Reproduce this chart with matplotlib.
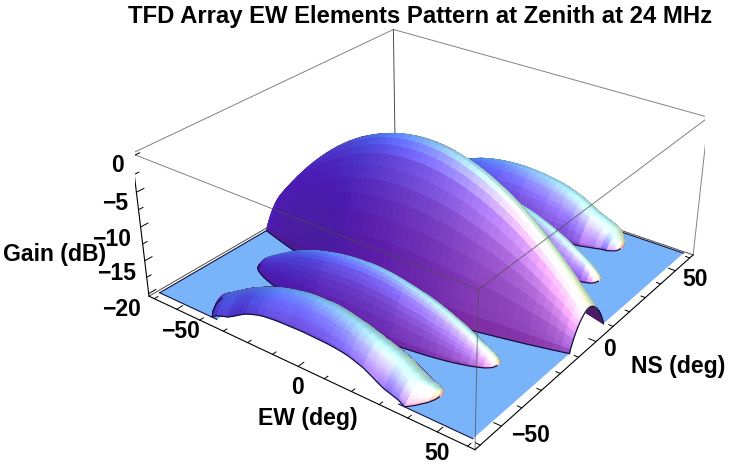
import numpy as np
import matplotlib
matplotlib.use("Agg")
import matplotlib.pyplot as plt
from mpl_toolkits.mplot3d.art3d import Poly3DCollection

# ---- values ----
title = "TFD Array EW Elements Pattern at Zenith at 24 MHz"
floor_db = -20.0
domain = 60.0

# main lobe along EW, given for EW >= 0, the other half is the same
main_ew = [0,2.5,5,7.5,10,12.5,15,17.5,20,22.5,25,27.5,30,32.5,35,37.5,40,42.5,45,47.5,50,52.5,55,57.5,60]
main_ridge = [0,-0.03,-0.11,-0.24,-0.43,-0.67,-0.97,-1.32,-1.72,-2.18,-2.69,-3.25,-3.87,-4.54,-5.27,-6.05,-6.88,-7.77,-8.71,-9.7,-10.75,-11.85,-13.01,-14.22,-15.48]
main_center = [-1.5]*25
main_width = [20,19.97,19.9,19.8,19.68,19.52,19.32,19.08,18.8,18.45,18.05,17.6,17.1,16.55,16,15.45,14.88,14.3,13.7,13.1,12.45,11.8,11.12,10.43,9.72]

# middle lobe, NS < 0 (the NS > 0 one is its mirror)
mid_ew = [0,2.5,5,7.5,10,12.5,15,17.5,20,22.5,25,27.5,30,32.5,35,37.5,40,42,44,45,46,46.5]
mid_ridge = [-12.5,-12.52,-12.58,-12.68,-12.82,-13,-13.22,-13.48,-13.78,-14.12,-14.5,-14.92,-15.38,-15.88,-16.42,-17,-17.62,-18.1,-18.7,-19.1,-19.6,-20]
mid_center = [-30,-30,-30,-30,-30,-30,-30,-29.9,-29.8,-29.7,-29.6,-29.5,-29.4,-29.3,-29.2,-29.1,-29,-28.8,-28.6,-28.5,-28.5,-28.5]
mid_width = [9,9,8.95,8.9,8.8,8.7,8.55,8.4,8.2,7.95,7.7,7.4,7.05,6.6,6.1,5.5,4.8,4.2,3.4,2.8,1.8,0.3]

# outer lobe, cut by the edge of the domain
out_ew = [0,2.5,5,7.5,10,12.5,15,17.5,20,22.5,25,27.5,30,32.5,35,37,39,41,41.8,42]
out_ridge = [-13,-13.03,-13.1,-13.22,-13.38,-13.58,-13.82,-14.12,-14.47,-14.88,-15.35,-15.87,-16.42,-16.98,-17.55,-18.05,-18.6,-19.2,-19.6,-20]
out_center = [-52.5,-52.5,-52.5,-52.6,-52.7,-52.8,-52.9,-53,-53,-53,-52.8,-52.6,-52.5,-52.8,-53,-53,-52,-51,-50.5,-50.3]
out_width = [11.5,11.5,11.5,11.45,11.4,11.3,11.2,11,10.7,10.4,10,9.5,9,8.4,7.8,7,5.7,3.5,1.8,0.4]

# cross section of a lobe, fraction of its height against offset/width
prof_u = [0,0.1,0.2,0.3,0.4,0.5,0.6,0.7,0.8,0.9,0.95,0.98,1]
prof_f = [1,0.985,0.95,0.9,0.83,0.75,0.65,0.53,0.39,0.22,0.13,0.07,0]

ew_ticks = [-60,-50,-40,-30,-20,-10,0,10,20,30,40,50,60]
ns_ticks = [-60,-50,-40,-30,-20,-10,0,10,20,30,40,50,60]
z_ticks = [-20,-17.5,-15,-12.5,-10,-7.5,-5,-2.5,0]

xlim = (-62.4,62.4)
ylim = (-62.4,62.4)
zlim = (-20.4,0.4)
elev, azim, roll = 28.8728,-53.0539,0.0691

def both_sides(ew,vals):
    # half lists to whole lobe
    ew = np.array(ew,float); vals = np.array(vals,float)
    return np.r_[-ew[:0:-1],ew], np.r_[vals[:0:-1],vals]

# camera frame, used for the lighting
e, a = np.radians(elev), np.radians(azim)
cam_u = np.array([-np.sin(a),np.cos(a),0])
cam_v = np.array([-np.sin(e)*np.cos(a),-np.sin(e)*np.sin(a),np.cos(e)])
cam_w = np.array([np.cos(e)*np.cos(a),np.cos(e)*np.sin(a),np.sin(e)])

ambient = np.array([0.45,0.12,0.6])
lights = [((1,0,1),(0.8,0,0),0.7),((1,1,1),(0,0.8,0),0.45),((0,1,1),(0,0,0.8),0.45)]
diffuse = np.array([0.65,0.88,0.66])
spec_p = 6

def shade(nx,ny,nz):
    # normals come in box coords, lights live in view coords
    n = np.stack([nx,ny,nz],axis=-1)
    n = n/np.linalg.norm(n,axis=-1,keepdims=True)
    facing = n@cam_w
    n = np.where(facing[...,None]<0,-n,n)
    nc = np.stack([n@cam_u,n@cam_v,n@cam_w],axis=-1)
    col = np.ones(nc.shape)*ambient*diffuse
    view = np.array([0,0,1.])
    for ldir,lcol,spec_k in lights:
        l = np.array(ldir,float); l = l/np.linalg.norm(l)
        h = (l+view)/np.linalg.norm(l+view)
        d = np.clip(nc@l,0,None)[...,None]
        s = np.clip(nc@h,0,None)[...,None]**spec_p
        col = col+d*np.array(lcol)*diffuse+spec_k*s*np.array(lcol)
    return np.clip(col,0,1)

def lobe_grid(ew,ridge,center,width,sign=1,rows=41):
    half = ew
    ew, ridge = both_sides(half,ridge)
    center = sign*both_sides(half,center)[1]
    width = both_sides(half,width)[1]
    lo = np.maximum((-domain-center)/width,-1)
    hi = np.minimum((domain-center)/width,1)
    t = np.linspace(0,1,rows)[:,None]
    u = lo+(hi-lo)*t
    X = ew*np.ones_like(u)
    Y = center+u*width
    Z = floor_db+(ridge-floor_db)*np.interp(np.abs(u),prof_u,prof_f)
    return X,Y,Z

def facecols(X,Y,Z):
    sx = 1/(xlim[1]-xlim[0]); sz = 0.4/(zlim[1]-zlim[0])
    p = np.stack([X*sx,Y*sx,Z*sz],axis=-1)
    d1 = p[1:,1:]-p[:-1,:-1]
    d2 = p[1:,:-1]-p[:-1,1:]
    n = np.cross(d1,d2)
    n = np.where(n[...,2:3]<0,-n,n)
    return shade(n[...,0],n[...,1],n[...,2])

fig = plt.figure(figsize=(7.29,4.7),dpi=100,facecolor='white')
ax = fig.add_axes([135.07/729,-29.8/470,570.2/729,570.2/470],projection='3d')
ax.computed_zorder = False
ax.set_axis_off()

box_col = (0.3,0.3,0.3)
line_col = '#14143c'

def edge3(p,q,**kw):
    ax.plot3D([p[0],q[0]],[p[1],q[1]],[p[2],q[2]],**kw)

x0,x1 = xlim; y0,y1 = ylim; z0,z1 = zlim
# back of the box, behind everything
for p,q in [((x0,y1,z0),(x0,y1,z1)),((x0,y1,z0),(x0,y0,z0)),((x0,y1,z0),(x1,y1,z0))]:
    edge3(p,q,color=box_col,lw=0.7,zorder=1)

def draw_lobe(ew,ridge,center,width,sign,zo):
    X,Y,Z = lobe_grid(ew,ridge,center,width,sign)
    # far contour goes under the surface, near contour on top
    ax.plot3D(X[-1],Y[-1],Z[-1],color=line_col,lw=0.8,zorder=zo)
    ax.plot_surface(X,Y,Z,facecolors=facecols(X,Y,Z),rstride=1,cstride=1,shade=False,linewidth=0.6,antialiased=True,zorder=zo+0.1)
    ax.plot3D(X[0],Y[0],Z[0],color=line_col,lw=0.9,zorder=zo+0.2)
    return X,Y,Z

# the floor, with the openings where lobes meet the edge of the domain
oew, oc = both_sides(out_ew,out_center)
ow = both_sides(out_ew,out_width)[1]
cut = oc-ow < -domain
mew, mc = both_sides(main_ew,main_center)
mw = both_sides(main_ew,main_width)[1]
fx = [-domain,oew[cut][0]]+list(oew[cut])+[oew[cut][-1],domain]
fy = [-domain,-domain]+list((oc+ow)[cut])+[-domain,-domain]
fx += [domain,mew[-5],mew[-5],domain,domain,-domain,-domain,mew[4],mew[4],-domain]
fy += [(mc-mw)[-1],(mc-mw)[-5],(mc+mw)[-5],(mc+mw)[-1],domain,domain,(mc+mw)[0],(mc+mw)[4],(mc-mw)[4],(mc-mw)[0]]
fz = [floor_db]*len(fx)
floor_col = shade(np.array(0.),np.array(0.),np.array(1.))
fpoly = Poly3DCollection([list(zip(fx,fy,fz))],facecolors=[floor_col],edgecolors='none',zorder=2)
ax.add_collection3d(fpoly)
ax.plot3D(fx[:2],fy[:2],[floor_db]*2,color=line_col,lw=0.8,zorder=2.5)
ax.plot3D([oew[cut][-1],domain],[-domain,-domain],[floor_db]*2,color=line_col,lw=0.8,zorder=2.5)
ax.plot3D([-domain,-domain,domain],[-domain,domain,domain],[floor_db]*3,color=line_col,lw=0.8,zorder=2.5)

draw_lobe(out_ew,out_ridge,out_center,out_width,-1,3)
draw_lobe(mid_ew,mid_ridge,mid_center,mid_width,-1,4)
X,Y,Z = draw_lobe(main_ew,main_ridge,main_center,main_width,1,5)
ax.plot3D(X[:,-1],Y[:,-1],Z[:,-1],color=line_col,lw=0.9,zorder=5.3)
draw_lobe(mid_ew,mid_ridge,mid_center,mid_width,1,6)
X,Y,Z = draw_lobe(out_ew,out_ridge,out_center,out_width,1,7)

# front of the box, gray over the surfaces
for p,q in [((x0,y0,z1),(x1,y0,z1)),((x1,y0,z1),(x1,y1,z1)),((x1,y1,z1),(x0,y1,z1)),((x0,y1,z1),(x0,y0,z1)),
            ((x1,y0,z0),(x1,y0,z1)),((x1,y1,z0),(x1,y1,z1))]:
    edge3(p,q,color=box_col,lw=0.7,alpha=0.7,zorder=20)

# axis lines and their ticks
edge3((x0,y0,z0),(x0,y0,z1),color='black',lw=0.8,zorder=21)
edge3((x0,y0,z0),(x1,y0,z0),color='black',lw=0.8,zorder=21)
edge3((x1,y0,z0),(x1,y1,z0),color='black',lw=0.8,zorder=21)
for t in ew_ticks:
    ln = 2.5 if t%50==0 else 1.5
    edge3((t,y0,z0),(t,y0+ln,z0),color='black',lw=0.7,zorder=21)
for t in ns_ticks:
    ln = 2.5 if t%50==0 else 1.5
    edge3((x1,t,z0),(x1-ln,t,z0),color='black',lw=0.7,zorder=21)
for t in z_ticks:
    ln = 3 if t%5==0 else 1.8
    edge3((x0,y0,t),(x0,y0+ln,t),color='black',lw=0.7,zorder=21)

ax.set_xlim(*xlim); ax.set_ylim(*ylim); ax.set_zlim(*zlim)
ax.set_box_aspect((1,1,0.4))
ax.view_init(elev,azim,roll)
ax.set_proj_type('persp',focal_length=0.4319)

# text, placed in image pixels
font = ['Liberation Sans','DejaVu Sans']
def txt(px,py,s,size=16.6):
    fig.text(px/729,1-py/470,s,ha='center',va='center',family=font,weight='bold',fontsize=size,color='black')
txt(420,16,title,17.2)
for px,py,s in [(117,165,"0"),(115,203,"\u22125"),(112,239,"\u221210"),(117,273,"\u221215"),(121,309,"\u221220"),
                (180,332,"\u221250"),(298,388,"0"),(437,453,"50"),
                (530,436,"\u221250"),(609,350,"0"),(695,279,"50")]:
    txt(px,py,s)
txt(55,255,"Gain (dB)")
txt(308,418,"EW (deg)")
txt(678,366,"NS (deg)")

fig.savefig("out.png",dpi=100)
